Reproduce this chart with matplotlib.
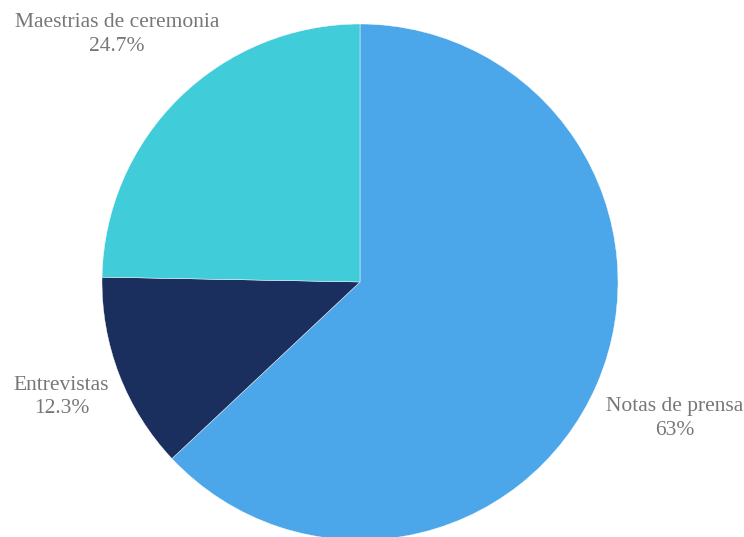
import numpy as np
import matplotlib
matplotlib.use("Agg")
import matplotlib.pyplot as plt

categories = ["Notas de prensa", "Entrevistas", "Maestrias de ceremonia"]
values = [63.0, 12.3, 24.7]
pct_labels = ["63%", "12.3%", "24.7%"]
colors = ["#4BA7EA", "#1B2F5F", "#41CCD9"]

W, H = 744, 537
fig = plt.figure(figsize=(W / 100, H / 100), dpi=100)
ax = fig.add_axes([0, 0, 1, 1])
ax.set_xlim(0, W)
ax.set_ylim(0, H)
ax.set_aspect("equal")
ax.axis("off")

cx, cy, r = 360, H - 282, 258
labels = [f"{c}\n{p}" for c, p in zip(categories, pct_labels)]
wedges, texts = ax.pie(values, colors=colors, startangle=90, counterclock=False,
                       center=(cx, cy), radius=r, labels=labels, labeldistance=1.28,
                       wedgeprops=dict(linewidth=0.3, edgecolor="white"),
                       textprops=dict(family="Liberation Serif", fontsize=15.5,
                                      color="#777777", ha="center", va="center",
                                      linespacing=1.35))
dists = [1.33, 1.24, 1.345]
for w, t, d in zip(wedges, texts, dists):
    ang = np.deg2rad((w.theta1 + w.theta2) / 2)
    t.set_position((cx + d * r * np.cos(ang), cy + d * r * np.sin(ang)))
    t.set_horizontalalignment("center")
    t.set_multialignment("center")
ax.set_xlim(0, W)
ax.set_ylim(0, H)
fig.savefig("out.png", dpi=100)
